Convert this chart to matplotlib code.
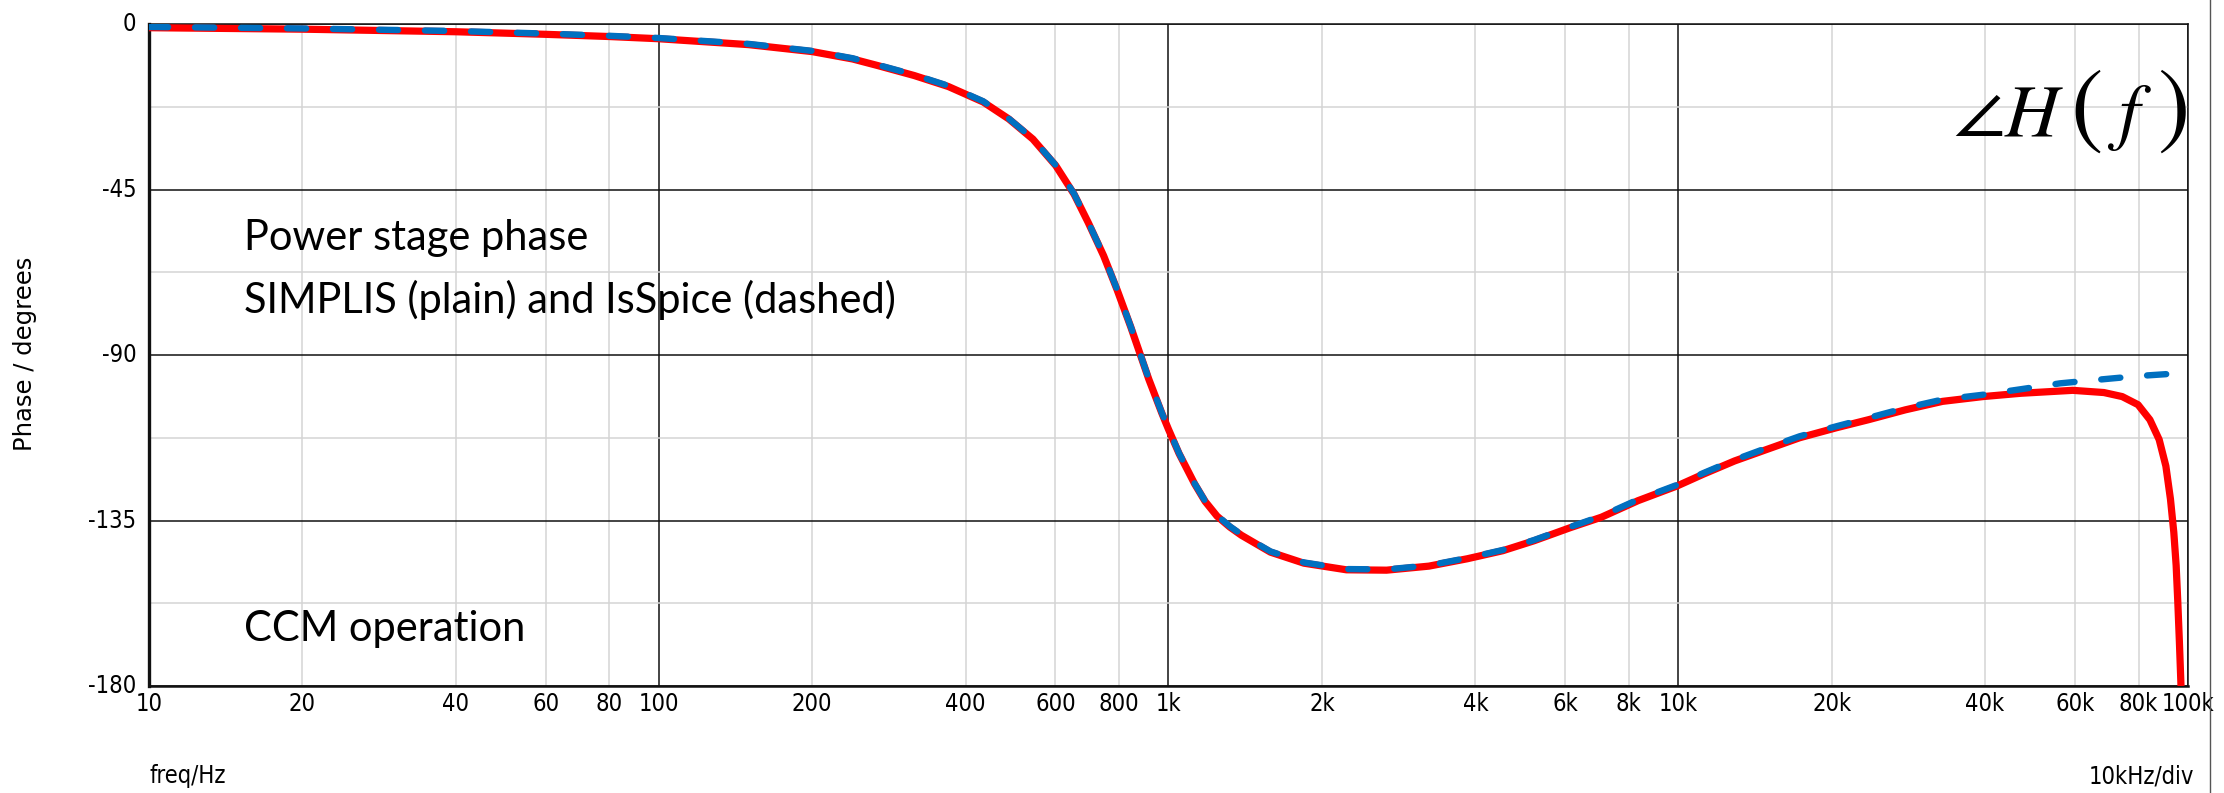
import matplotlib.pyplot as plt
import matplotlib.ticker as mticker
from matplotlib.lines import Line2D
from matplotlib import font_manager
from matplotlib.font_manager import FontProperties
from matplotlib.offsetbox import TextArea, HPacker, AnchoredOffsetbox

# 读图得到的数据：频率 (Hz) 和相位 (度)
f_simplis = [10, 20, 40, 60, 80, 100, 150, 200, 240, 269, 317, 370, 433, 486, 542,
             601, 653, 696, 746, 793, 843, 873, 915, 971, 1000, 1049, 1125, 1180,
             1245, 1320, 1390, 1585, 1844, 2234, 2678, 3243, 3855, 4529, 5214, 6124,
             7067, 8340, 9950, 11200, 12900, 14900, 17300, 20400, 23600, 27900,
             33000, 39600, 47000, 59400, 68400, 74300, 79800, 84200, 87800, 90500,
             92400, 93800, 94800, 95500, 96200, 96900]
ph_simplis = [-1.0, -1.4, -2.1, -2.8, -3.4, -4.0, -5.6, -7.5, -9.5, -11.3, -14.0,
              -17.0, -21.2, -25.8, -31.3, -38.5, -46.3, -54.0, -63.0, -72.3, -82.3,
              -88.4, -96.6, -105.9, -110.2, -116.8, -125.0, -129.8, -133.8, -136.8,
              -139.0, -143.6, -146.6, -148.4, -148.5, -147.4, -145.4, -143.2, -140.5,
              -137.0, -134.1, -129.6, -125.6, -122.4, -118.8, -115.7, -112.5, -109.8,
              -107.6, -104.9, -102.6, -101.3, -100.4, -99.6, -100.2, -101.3, -103.5,
              -107.6, -113.0, -120.2, -129.2, -138.2, -147.2, -157.0, -168.0, -180.0]

f_isspice = [10, 20, 40, 60, 80, 100, 150, 200, 240, 269, 317, 370, 433, 486, 542,
             601, 653, 696, 746, 793, 843, 873, 915, 971, 1000, 1049, 1125, 1180,
             1245, 1320, 1390, 1585, 1844, 2234, 2678, 3243, 3855, 4529, 5214, 6124,
             7067, 8340, 9950, 11200, 12900, 14900, 17300, 20400, 23600, 27900,
             33000, 39600, 47000, 56100, 65600, 80000, 95300, 100000]
ph_isspice = [-0.8, -1.2, -1.9, -2.6, -3.2, -3.8, -5.4, -7.3, -9.3, -11.1, -13.8,
              -16.8, -21.0, -25.7, -31.2, -38.4, -46.2, -53.9, -62.9, -72.2, -82.2,
              -88.3, -96.5, -105.8, -110.1, -116.7, -124.9, -129.7, -133.6, -136.6,
              -138.8, -143.4, -146.4, -148.2, -148.3, -147.2, -145.2, -143.0, -140.3,
              -136.8, -133.8, -129.3, -125.3, -122.1, -118.5, -115.3, -112.1, -109.4,
              -107.1, -104.4, -102.1, -100.8, -99.3, -97.7, -96.8, -95.7, -95.0, -94.5]

x_ticks = [10, 20, 40, 60, 80, 100, 200, 400, 600, 800, 1000, 2000, 4000, 6000,
           8000, 10000, 20000, 40000, 60000, 80000, 100000]
x_labels = ["10", "20", "40", "60", "80", "100", "200", "400", "600", "800", "1k",
            "2k", "4k", "6k", "8k", "10k", "20k", "40k", "60k", "80k", "100k"]
y_ticks = [0, -45, -90, -135, -180]
y_minor = [-22.5, -67.5, -112.5, -157.5]

# 找一个窄体字体（类似原图的刻度字体）
narrow_path = None
for fe in font_manager.fontManager.ttflist:
    fn = fe.fname.lower().replace('-', '').replace('_', '')
    if 'dejavusanscondensed.ttf' in fn or 'liberationsansnarrowregular' in fn:
        narrow_path = fe.fname
        break
if narrow_path:
    tick_fp = FontProperties(fname=narrow_path, size=17)
else:
    tick_fp = FontProperties(family='Liberation Sans', size=17)

plt.rcParams['mathtext.fontset'] = 'stix'

fig = plt.figure(figsize=(22.24, 7.93), dpi=100)
ax = fig.add_axes([0.0670, 0.1349, 0.9168, 0.8348])

ax.set_xscale('log')
ax.set_xlim(10, 100000)
ax.set_ylim(-180, 0)

# 网格：主线黑色，次线浅灰
ax.xaxis.set_major_locator(mticker.FixedLocator([10, 100, 1000, 10000, 100000]))
minor_x = [m * d for d in [10, 100, 1000, 10000] for m in (2, 4, 6, 8)]
ax.xaxis.set_minor_locator(mticker.FixedLocator(minor_x))
ax.yaxis.set_major_locator(mticker.FixedLocator(y_ticks))
ax.yaxis.set_minor_locator(mticker.FixedLocator(y_minor))
ax.grid(which='major', color='#111111', linewidth=1.1, zorder=1)
ax.grid(which='minor', color='#d4d4d4', linewidth=1.1, zorder=0)
ax.set_axisbelow(True)
ax.tick_params(which='both', length=0)
ax.xaxis.set_major_formatter(mticker.NullFormatter())
ax.xaxis.set_minor_formatter(mticker.NullFormatter())
ax.set_yticklabels([])

# 刻度标签
for f, lab in zip(x_ticks, x_labels):
    ax.annotate(lab, xy=(f, 0), xycoords=('data', 'axes fraction'),
                xytext=(0, -4), textcoords='offset points',
                ha='center', va='top', fontproperties=tick_fp)
for y in y_ticks:
    ax.annotate(str(y), xy=(0, y), xycoords=('axes fraction', 'data'),
                xytext=(-9, 0), textcoords='offset points',
                ha='right', va='center', fontproperties=tick_fp)

ax.spines['left'].set_linewidth(2.4)
ax.spines['bottom'].set_linewidth(1.8)
ax.spines['top'].set_linewidth(1.1)
ax.spines['right'].set_linewidth(1.1)
for s in ax.spines.values():
    s.set_color('#111111')

# 曲线：SIMPLIS 实线，IsSpice 虚线
ax.plot(f_simplis, ph_simplis, color='#ff0000', linewidth=5.2,
        solid_capstyle='butt', solid_joinstyle='round', zorder=3)
ax.plot(f_isspice, ph_isspice, color='#0070c0', linewidth=4.6,
        linestyle=(0, (3.0, 4.2)), dash_capstyle='round', zorder=4)

# 注释文字
txt_font = ['Lato', 'DejaVu Sans']
ax.text(0.0466, 0.659, 'Power stage phase', transform=ax.transAxes,
        fontsize=30, family=txt_font, va='baseline')
ax.text(0.0466, 0.563, 'SIMPLIS (plain) and IsSpice (dashed)', transform=ax.transAxes,
        fontsize=30, family=txt_font, va='baseline')
ax.text(0.0466, 0.068, 'CCM operation', transform=ax.transAxes,
        fontsize=30, family=txt_font, va='baseline')

# ∠H(f)，括号比字母大一号
parts = [TextArea(r'$\angle H$', textprops=dict(size=54)),
         TextArea(r'$($', textprops=dict(size=70)),
         TextArea(r'$f$', textprops=dict(size=54)),
         TextArea(r'$)$', textprops=dict(size=70))]
pack = HPacker(children=parts, align='baseline', pad=0, sep=4)
box = AnchoredOffsetbox(loc='center right', child=pack, pad=0, borderpad=0,
                        frameon=False, bbox_to_anchor=(0.9995, 0.871),
                        bbox_transform=ax.transAxes)
ax.add_artist(box)

# 轴标题
fig.text(0.0112, 0.554, 'Phase / degrees', rotation=90, ha='center', va='center',
         fontsize=17.5, family='DejaVu Sans')
fig.text(0.0670, 0.021, 'freq/Hz', ha='left', va='center', fontproperties=tick_fp)
fig.text(0.9865, 0.021, '10kHz/div', ha='right', va='center', fontproperties=tick_fp)

fig.add_artist(Line2D([0.9938, 0.9938], [0, 1], color='#555555', linewidth=1.0))

plt.savefig('out.png', dpi=100)
